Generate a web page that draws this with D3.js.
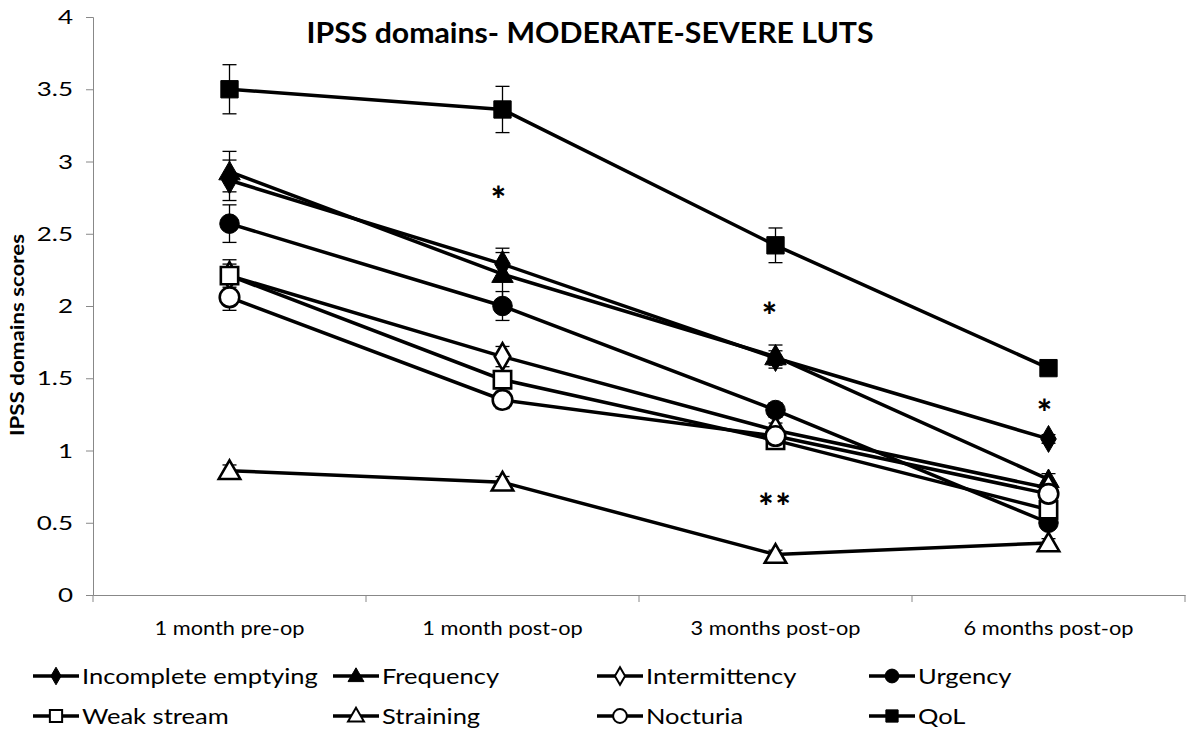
<!DOCTYPE html>
<html>
<head>
<meta charset="utf-8">
<script src="https://cdn.jsdelivr.net/npm/d3@7"></script>
<style>
  body { margin: 0; background: #fff; }
  text { font-family: Lato, "Open Sans", sans-serif; fill: #000; }
</style>
</head>
<body>
<svg id="chart" width="1187" height="735"></svg>
<script>
// categories and series
const categories = ['1 month pre-op', '1 month post-op', '3 months post-op', '6 months post-op'];
const seriesNames = ['Incomplete emptying', 'Frequency', 'Intermittency', 'Urgency',
                     'Weak stream', 'Straining', 'Nocturia', 'QoL'];
const incompleteEmptying = [2.87, 2.29, 1.64, 1.08];
const frequency          = [2.93, 2.22, 1.65, 0.80];
const intermittency      = [2.21, 1.65, 1.14, 0.74];
const urgency            = [2.57, 2.00, 1.28, 0.50];
const weakStream         = [2.21, 1.49, 1.07, 0.59];
const straining          = [0.86, 0.78, 0.28, 0.36];
const nocturia           = [2.06, 1.35, 1.10, 0.70];
const qol                = [3.50, 3.36, 2.42, 1.57];
// standard errors
const errIncomplete    = [0.14, 0.08, 0.05, 0.03];
const errFrequency     = [0.14, 0.18, 0.08, 0.04];
const errIntermittency = [0.08, 0.07, 0.05, 0.04];
const errUrgency       = [0.13, 0.10, 0.05, 0.04];
const errWeak          = [0.11, 0.06, 0.05, 0.04];
const errStraining     = [0.04, 0.04, 0.03, 0.03];
const errNocturia      = [0.09, 0.06, 0.05, 0.04];
const errQol           = [0.17, 0.16, 0.12, 0.05];
const yTicks = [0, 0.5, 1, 1.5, 2, 2.5, 3, 3.5, 4];
// significance marks: category index, value position, label
const sigCats = [1, 2, 3, 2];
const sigVals = [2.78, 1.98, 1.31, 0.66];
const sigLabels = ['*', '*', '*', '**'];

const series = [
  { name: seriesNames[0], values: incompleteEmptying, err: errIncomplete, shape: 'diamond', fill: true },
  { name: seriesNames[1], values: frequency, err: errFrequency, shape: 'triangle', fill: true },
  { name: seriesNames[2], values: intermittency, err: errIntermittency, shape: 'diamond', fill: false },
  { name: seriesNames[3], values: urgency, err: errUrgency, shape: 'circle', fill: true },
  { name: seriesNames[4], values: weakStream, err: errWeak, shape: 'square', fill: false },
  { name: seriesNames[5], values: straining, err: errStraining, shape: 'triangle', fill: false },
  { name: seriesNames[6], values: nocturia, err: errNocturia, shape: 'circle', fill: false },
  { name: seriesNames[7], values: qol, err: errQol, shape: 'square', fill: true }
];

const svg = d3.select('#chart');
const margin = { top: 17, left: 93, right: 2 };
const width = 1187;

const x = d3.scaleBand().domain(categories).range([margin.left, width - margin.right]);
const y = d3.scaleLinear().domain([0, 4]).range([595, 17]);
const cx = c => x(c) + x.bandwidth() / 2;

// text stretched horizontally (source picture is wide)
function stext(g, tx, ty, sx, str, size, anchor, bold) {
  return g.append('text')
    .attr('transform', 'translate(' + tx + ',' + ty + ') scale(' + sx + ',1)')
    .attr('text-anchor', anchor).attr('font-size', size)
    .attr('font-weight', bold ? 'bold' : 'normal').text(str);
}

// axes
const yAxis = svg.append('g')
  .attr('transform', 'translate(' + margin.left + ',0)')
  .call(d3.axisLeft(y).tickValues(yTicks).tickSize(7).tickFormat(''));
yAxis.select('.domain').attr('stroke', '#888');
yAxis.selectAll('.tick line').attr('stroke', '#888');
yTicks.forEach(t => stext(svg, 73, y(t) + 7, 1.3, d3.format('')(t), 20, 'end', false));

const xAxis = svg.append('g')
  .attr('transform', 'translate(0,' + y(0) + ')')
  .call(d3.axisBottom(x).tickSize(0).tickFormat(''));
xAxis.select('.domain').attr('stroke', '#888');
const bounds = categories.map(c => x(c)).concat([x(categories[3]) + x.bandwidth()]);
xAxis.selectAll('.bound').data(bounds).enter().append('line')
  .attr('x1', d => d).attr('x2', d => d).attr('y1', 0).attr('y2', 7)
  .attr('stroke', '#888');
categories.forEach(c => stext(svg, cx(c), 635, 1.09, c, 20, 'middle', false));

// title and axis label
stext(svg, 590, 43, 1.08, 'IPSS domains- MODERATE-SEVERE LUTS', 28, 'middle', true);
svg.append('text').attr('transform', 'translate(24,335) rotate(-90) scale(1.24,1)')
  .attr('text-anchor', 'middle').attr('font-size', 18).attr('font-weight', 'bold')
  .text('IPSS domains scores');

const symType = { diamond: d3.symbolDiamond, triangle: d3.symbolTriangle, circle: d3.symbolCircle, square: d3.symbolSquare };
const symSize = { diamond: 210, triangle: 200, circle: 300, square: 300 };
const legSize = { diamond: 90, triangle: 110, circle: 150, square: 150 };

const line = d3.line().x((d, i) => cx(categories[i])).y(d => y(d));

// error bars
const eb = svg.append('g');
series.forEach(s => {
  s.values.forEach((v, i) => {
    const px = cx(categories[i]);
    eb.append('line').attr('x1', px).attr('x2', px).attr('y1', y(v + s.err[i])).attr('y2', y(v - s.err[i]))
      .attr('stroke', '#000').attr('stroke-width', 1.3);
    [v + s.err[i], v - s.err[i]].forEach(e => {
      eb.append('line').attr('x1', px - 7).attr('x2', px + 7).attr('y1', y(e)).attr('y2', y(e))
        .attr('stroke', '#000').attr('stroke-width', 1.3);
    });
  });
});

// lines + markers
series.forEach(s => {
  const g = svg.append('g');
  g.append('path').attr('d', line(s.values)).attr('fill', 'none')
    .attr('stroke', '#000').attr('stroke-width', 3.5);
  g.selectAll('path.m').data(s.values).enter().append('path').attr('class', 'm')
    .attr('d', d3.symbol().type(symType[s.shape]).size(symSize[s.shape])())
    .attr('transform', (d, i) => 'translate(' + cx(categories[i]) + ',' + (y(d) + (s.shape === 'triangle' ? 2 : 0)) + ')')
    .attr('fill', s.fill ? '#000' : '#fff')
    .attr('stroke', '#000').attr('stroke-width', s.fill ? 1 : 2.6);
});

// significance
svg.selectAll('text.sig').data(sigLabels).enter().append('text').attr('class', 'sig')
  .attr('x', (d, i) => cx(categories[sigCats[i]]) - (d === '*' && sigCats[i] === 2 ? 5 : 0) - (sigCats[i] === 3 ? 3 : 0) - (sigCats[i] === 1 ? 3 : 0))
  .attr('y', (d, i) => y(sigVals[i]) + 20)
  .attr('text-anchor', 'middle').attr('font-size', 36).attr('font-weight', 900)
  .attr('letter-spacing', 2)
  .text(d => d);

// legend
const colX = [33, 333, 597, 869];
const rowY = [676, 716];
const leg = svg.append('g');
series.forEach((s, i) => {
  const lx = colX[i % 4], ly = rowY[Math.floor(i / 4)];
  leg.append('line').attr('x1', lx).attr('x2', lx + 46).attr('y1', ly).attr('y2', ly)
    .attr('stroke', '#000').attr('stroke-width', 3.5);
  leg.append('path').attr('d', d3.symbol().type(symType[s.shape]).size(legSize[s.shape])())
    .attr('transform', 'translate(' + (lx + 23) + ',' + (ly + (s.shape === 'triangle' ? 1 : 0)) + ')')
    .attr('fill', s.fill ? '#000' : '#fff').attr('stroke', '#000').attr('stroke-width', s.fill ? 1 : 2);
  stext(leg, lx + 49, ly + 8, 1.16, s.name, 22, 'start', false);
});
</script>
</body>
</html>
